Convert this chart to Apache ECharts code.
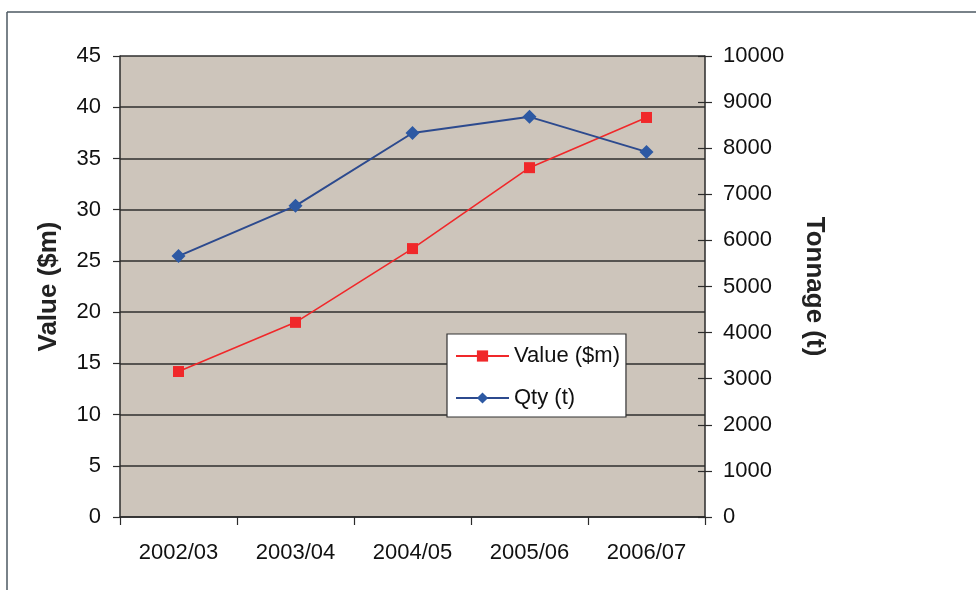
<!DOCTYPE html>
<html>
<head>
<meta charset="utf-8">
<script src="https://cdn.jsdelivr.net/npm/echarts@6/dist/echarts.min.js"></script>
<style>
  html, body { margin: 0; padding: 0; background: #ffffff; }
  #chart { width: 976px; height: 590px; }
</style>
</head>
<body>
<div id="chart"></div>
<script>
// Export value and tonnage by financial year
const years = ['2002/03', '2003/04', '2004/05', '2005/06', '2006/07'];
const valueMillions = [14.2, 19.0, 26.2, 34.1, 39.0];
const tonnage = [5660, 6750, 8330, 8680, 7920];

const valueTicks = { min: 0, max: 45, interval: 5 };
const tonnageTicks = { min: 0, max: 10000, interval: 1000 };

const FONT = '"Liberation Sans", Arial, sans-serif';
const AXIS_COLOR = '#2b2b2b';
const LABEL_SIZE = 22;

const chart = echarts.init(document.getElementById('chart'), null, { renderer: 'canvas' });

chart.setOption({
  animation: false,
  backgroundColor: '#ffffff',
  textStyle: { fontFamily: FONT },
  graphic: [
    // frame around the chart area
    { type: 'line', shape: { x1: 7, y1: 12, x2: 976, y2: 12 }, style: { stroke: '#4d5862', lineWidth: 1.5 } },
    { type: 'line', shape: { x1: 7, y1: 12, x2: 7, y2: 590 }, style: { stroke: '#4d5862', lineWidth: 1.5 } }
  ],
  grid: {
    left: 120, right: 271, top: 56, bottom: 73,
    show: true,
    backgroundColor: '#cdc5bb',
    borderWidth: 0
  },
  legend: {
    left: 447, top: 334,
    orient: 'vertical',
    backgroundColor: '#ffffff',
    borderColor: '#333333',
    borderWidth: 1.2,
    padding: [11, 6, 8, 8],
    itemWidth: 53,
    itemHeight: 14,
    itemGap: 20,
    textStyle: { fontSize: LABEL_SIZE, color: '#111111', fontFamily: FONT },
    data: ['Value ($m)', 'Qty (t)']
  },
  xAxis: {
    type: 'category',
    data: years,
    boundaryGap: true,
    axisLine: { lineStyle: { color: AXIS_COLOR, width: 1.5 } },
    axisTick: { show: true, length: 8, alignWithLabel: false, lineStyle: { color: AXIS_COLOR, width: 1.2 } },
    axisLabel: { fontSize: LABEL_SIZE, color: '#111111', margin: 25, fontFamily: FONT },
    splitLine: { show: false }
  },
  yAxis: [
    {
      type: 'value',
      position: 'left',
      min: valueTicks.min, max: valueTicks.max, interval: valueTicks.interval,
      name: 'Value ($m)',
      nameLocation: 'middle',
      nameGap: 58,
      nameRotate: 90,
      nameTextStyle: { fontSize: 26, fontWeight: 'bold', color: '#222222', fontFamily: FONT },
      axisLine: { show: true, lineStyle: { color: AXIS_COLOR, width: 1.5 } },
      axisTick: { show: true, length: 7, lineStyle: { color: AXIS_COLOR, width: 1.2 } },
      axisLabel: { fontSize: LABEL_SIZE, color: '#111111', margin: 19, fontFamily: FONT },
      splitLine: { show: true, lineStyle: { color: '#2e2e2e', width: 1.5 } }
    },
    {
      type: 'value',
      position: 'right',
      min: tonnageTicks.min, max: tonnageTicks.max, interval: tonnageTicks.interval,
      name: 'Tonnage (t)',
      nameLocation: 'middle',
      nameGap: 96,
      nameRotate: -90,
      nameTextStyle: { fontSize: 26, fontWeight: 'bold', color: '#222222', fontFamily: FONT },
      axisLine: { show: true, lineStyle: { color: AXIS_COLOR, width: 1.5 } },
      axisTick: { show: true, length: 7, lineStyle: { color: AXIS_COLOR, width: 1.2 } },
      axisLabel: {
        fontSize: LABEL_SIZE, color: '#111111', margin: 18, fontFamily: FONT,
        formatter: (v) => String(v)
      },
      splitLine: { show: false }
    },
    {
      // inner half of the crossing ticks on the tonnage axis
      type: 'value',
      position: 'right',
      min: tonnageTicks.min, max: tonnageTicks.max, interval: tonnageTicks.interval,
      axisLine: { show: false },
      axisTick: { show: true, inside: true, length: 7, lineStyle: { color: AXIS_COLOR, width: 1.2 } },
      axisLabel: { show: false },
      splitLine: { show: false }
    }
  ],
  series: [
    {
      name: 'Value ($m)',
      type: 'line',
      yAxisIndex: 0,
      data: valueMillions,
      symbol: 'rect',
      symbolSize: 11,
      lineStyle: { color: '#f0282a', width: 1.6 },
      itemStyle: { color: '#f0282a' },
      z: 3
    },
    {
      name: 'Qty (t)',
      type: 'line',
      yAxisIndex: 1,
      data: tonnage,
      symbol: 'diamond',
      symbolSize: 14,
      lineStyle: { color: '#2c4a8e', width: 2 },
      itemStyle: { color: '#2d59a3' },
      z: 3
    }
  ]
});
</script>
</body>
</html>
